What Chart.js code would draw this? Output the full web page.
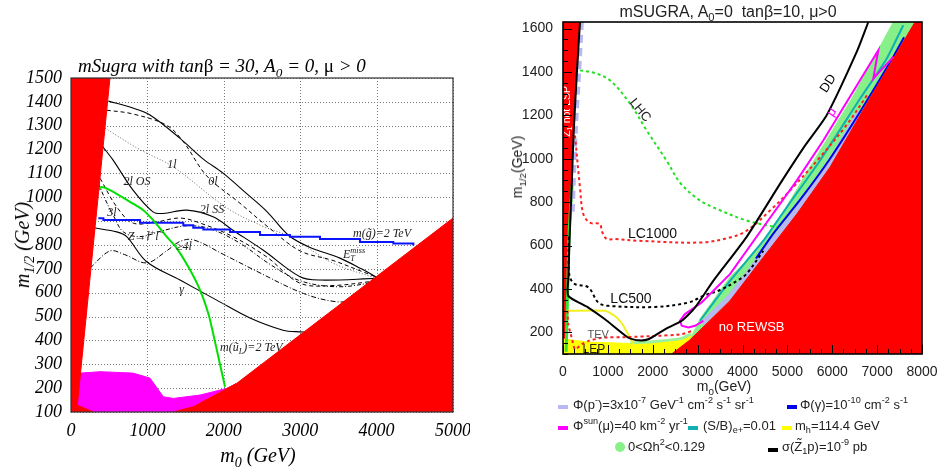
<!DOCTYPE html>
<html>
<head>
<meta charset="utf-8">
<script src="https://cdn.jsdelivr.net/npm/chart.js@4.4.1/dist/chart.umd.min.js"></script>
<style>
body { margin: 0; background: #fff; }
#wrap { position: relative; width: 938px; height: 470px; overflow: hidden; }
.box { position: absolute; }
.t { position: absolute; white-space: nowrap; line-height: 1; color: #000; }
.serif { font-family: "Liberation Serif", "DejaVu Serif", serif; font-style: italic; }
.sans { font-family: "Liberation Sans", Arial, sans-serif; color: #222; }
.u { font-style: normal; }
.ctr { transform: translate(-50%, -50%); }
.rot { transform: translate(-50%, -50%) rotate(-90deg); }
.mid { transform: translateY(-50%); }
sub, sup { font-size: 70%; line-height: 0; }
.sw { position: absolute; width: 10px; height: 4px; }
</style>
</head>
<body>
<div id="wrap">
  <div class="box" style="left:0;top:0;width:470px;height:470px"><canvas id="left"></canvas></div>
  <div class="box" style="left:470px;top:0;width:468px;height:470px"><canvas id="right"></canvas></div>

  <div class="t serif" style="left:78px;top:56px;font-size:19px">mSugra with tan<span class="u">β</span> = 30, A<sub>0</sub> = 0, <span class="u">μ</span> &gt; 0</div>
  <div class="t serif rot" style="left:22px;top:245px;font-size:20px">m<sub>1/2</sub> (GeV)</div>
  <div class="t serif ctr" style="left:258px;top:455px;font-size:20px">m<sub>0</sub> (GeV)</div>

  <div class="t sans ctr" style="left:728px;top:12px;font-size:16px">mSUGRA, A<sub>0</sub>=0&nbsp; tanβ=10, μ&gt;0</div>
  <div class="t sans rot" style="left:517px;top:167px;font-size:14px">m<sub>1/2</sub>(GeV)</div>
  <div class="t sans ctr" style="left:724px;top:386px;font-size:14px">m<sub>0</sub>(GeV)</div>

  <div class="sw" style="left:558px;top:405px;background:#b8b8f2"></div>
  <div class="t sans mid" style="left:573px;top:404px;font-size:13px">Φ(p<sup>-</sup>)=3x10<sup>-7</sup> GeV<sup>-1</sup> cm<sup>-2</sup> s<sup>-1</sup> sr<sup>-1</sup></div>
  <div class="sw" style="left:787px;top:405px;background:#0000ee"></div>
  <div class="t sans mid" style="left:800px;top:404px;font-size:13px">Φ(γ)=10<sup>-10</sup> cm<sup>-2</sup> s<sup>-1</sup></div>

  <div class="sw" style="left:558px;top:426px;background:#ff00ff"></div>
  <div class="t sans mid" style="left:573px;top:425px;font-size:13px">Φ<sup>sun</sup>(μ)=40 km<sup>-2</sup> yr<sup>-1</sup></div>
  <div class="sw" style="left:688px;top:426px;background:#10b0b0"></div>
  <div class="t sans mid" style="left:703px;top:425px;font-size:13px">(S/B)<sub>e+</sub>=0.01</div>
  <div class="sw" style="left:782px;top:426px;background:#ffff00"></div>
  <div class="t sans mid" style="left:795px;top:425px;font-size:13px">m<sub>h</sub>=114.4 GeV</div>

  <div class="box" style="left:615px;top:442px;width:10px;height:10px;border-radius:50%;background:#88f088"></div>
  <div class="t sans mid" style="left:628px;top:446px;font-size:13px">0&lt;Ωh<sup>2</sup>&lt;0.129</div>
  <div class="sw" style="left:768px;top:448px;background:#000"></div>
  <div class="t sans mid" style="left:782px;top:446px;font-size:13px">σ(Z̃<sub>1</sub>p)=10<sup>-9</sup> pb</div>
</div>

<script>
// ---------- left panel: tan beta = 30 ----------
const leftXTicks = [0, 1000, 2000, 3000, 4000, 5000];
const leftYTicks = [100, 200, 300, 400, 500, 600, 700, 800, 900, 1000, 1100, 1200, 1300, 1400, 1500];
const leftRedWedge = [[0, 100], [0, 1500], [510, 1500], [83, 129], [292, 100]];
const leftRedRight = [[1339, 100], [1601, 122], [2169, 220], [5000, 913], [5000, 100]];
const leftMagenta = [[83, 129], [83, 262], [380, 269], [812, 263], [1034, 242], [1208, 164], [1339, 157],
  [1689, 171], [2038, 199], [2169, 220], [1601, 122], [1339, 100], [292, 100]];
const gluino2TeV = [[358, 912], [424, 905], [903, 893], [1470, 883], [1600, 872], [1732, 865], [2081, 855],
  [2474, 842], [2866, 835], [3259, 825], [3783, 813], [4219, 806], [4481, 798]];
const squark2TeV = [[358, 1030], [402, 1043], [510, 1030], [772, 981], [946, 946], [1073, 905], [1252, 835],
  [1383, 787], [1550, 700], [1689, 611], [1800, 510], [1859, 431], [1950, 300], [2016, 206]];
const reach0l = [[489, 1403], [800, 1375], [1034, 1345], [1427, 1247], [1732, 1160], [1990, 1101], [2300, 1015],
  [2565, 940], [2850, 840], [3130, 790], [3520, 745], [3800, 700], [4000, 665]];
const reachEtMiss = [[467, 1365], [800, 1350], [1252, 1302], [1470, 1233], [1776, 1090], [2212, 975], [2600, 870],
  [3000, 775], [3430, 735], [3800, 690], [4000, 665]];
const reach1l = [[445, 1290], [900, 1200], [1335, 1128], [2042, 955], [2500, 880], [2866, 835], [3429, 724], [4002, 660]];
const reach2lOS = [[415, 1212], [551, 1156], [812, 1030], [1073, 939], [1204, 932], [1514, 946], [1859, 918],
  [2120, 862], [2513, 779], [2997, 667], [3259, 653], [4002, 660]];
const reach2lSS = [[380, 1080], [598, 960], [812, 892], [1121, 897], [1427, 913], [1689, 892], [2120, 835],
  [2562, 750], [2997, 640], [3429, 630], [4002, 650]];
const reach3l = [[358, 1058], [450, 990], [560, 920], [685, 855], [900, 835], [1200, 860], [1500, 880], [1800, 870],
  [2200, 810], [2600, 720], [3000, 650], [3500, 625], [4000, 645]];
const reachZll = [[249, 703], [510, 775], [700, 760], [991, 725], [1250, 775], [1427, 815], [1600, 822], [2000, 760],
  [2430, 690], [3042, 597], [3478, 562], [3800, 570]];
const reachGamma = [[314, 871], [598, 855], [729, 835], [991, 730], [1427, 653], [1907, 569], [2343, 494],
  [2775, 443], [2997, 436], [3129, 436]];
const leftLabels = [
  ["1l", 1322, 1135], ["2l OS", 864, 1064], ["0l", 1859, 1064], ["3l", 537, 934], ["2l SS", 1846, 946],
  ["Z→l^{+}l^{−}", 982, 833], ["≥4l", 1479, 793], ["E_{T}^{miss}", 3705, 758], ["γ", 1449, 611]
];
const leftLabelsLeft = [["m(g̃)=2 TeV", 3691, 846], ["m(ũ_{L})=2 TeV", 1950, 368]];

// ---------- right panel: tan beta = 10 ----------
const rightXTicks = [0, 1000, 2000, 3000, 4000, 5000, 6000, 7000, 8000];
const rightYTicks = [200, 400, 600, 800, 1000, 1200, 1400, 1600];
const redLeftStrip = [[0, 100], [0, 1630], [379, 1630], [305, 1384], [230, 1122], [194, 891], [118, 661],
  [90, 400], [60, 200], [40, 100]];
const redNoREWSB = [[2420, 100], [2830, 165], [3720, 345], [4460, 545], [5210, 745], [5950, 961], [6618, 1200],
  [7361, 1461], [7844, 1630], [8000, 1630], [8000, 100]];
const relicBand = [[2830, 165], [3053, 262], [3721, 455], [4000, 510], [4686, 675], [5500, 960], [6432, 1276],
  [7361, 1630], [7844, 1630], [7361, 1461], [6618, 1200], [5950, 961], [5210, 745], [4460, 545], [3720, 345]];
const relicLeft = [[70, 110], [105, 400], [135, 661], [205, 880]];
const relicLEP = [[1500, 152], [2050, 158], [2645, 172], [2850, 192]];
const lepYellow = [[0, 100], [0, 170], [45, 168], [564, 155], [1530, 148], [2050, 152], [2645, 168], [2793, 183],
  [2941, 199], [2830, 165], [2420, 100]];
const higgsLine = [[82, 299], [936, 299], [1196, 268], [1344, 230], [1493, 175], [1567, 145]];
const pbarLeft = [[420, 1630], [360, 1400], [290, 1150], [240, 900], [215, 740]];
const pbarRight = [[3100, 240], [3720, 365], [4460, 565], [5210, 765], [5950, 985], [6600, 1215]];
const gammaFlux = [[4300, 540], [4686, 655], [5281, 810], [5950, 1000], [6618, 1215], [7361, 1470], [7600, 1560]];
const positronSB = [[3053, 253], [3721, 437], [4464, 622], [4985, 776], [5727, 992], [6618, 1276], [7212, 1461], [7583, 1615]];
const muonSun = [[3127, 253], [2941, 230], [2793, 222], [2645, 230], [2607, 253], [2719, 284], [3090, 337],
  [3721, 468], [4464, 684], [5208, 899], [5800, 1084], [7026, 1500], [6915, 1369], [7325, 1461], [7361, 1470]];
const directDet = [[379, 1630], [310, 1400], [235, 1110], [195, 880], [150, 650], [120, 450], [118, 368],
  [564, 314], [936, 260], [1455, 175], [1678, 163], [1901, 168], [2273, 214], [2645, 253], [2941, 314],
  [3349, 437], [4093, 640], [4836, 884], [5393, 1060], [5876, 1200], [6545, 1492], [6804, 1630]];
const lc500 = [[130, 640], [125, 520], [156, 453], [267, 422], [564, 407], [787, 337], [1010, 322], [2050, 317],
  [2793, 337], [3127, 368], [3500, 395], [3900, 440], [4093, 470], [4464, 576]];
const lc1000 = [[267, 1107], [378, 869], [452, 745], [600, 705], [825, 699], [862, 668], [973, 630], [1159, 630],
  [1678, 622], [3090, 614], [3721, 637], [4093, 668], [4613, 761], [5058, 853], [5727, 1007], [6300, 1150], [6800, 1300]];
const lhcReach = [[379, 1407], [700, 1395], [1047, 1361], [1493, 1254], [1865, 1130], [2311, 990], [2607, 890],
  [3000, 815], [3349, 776], [4093, 715], [4762, 684]];
const tevReach = [[100, 300], [118, 236], [194, 175], [267, 122], [416, 145], [564, 160], [862, 175], [1455, 178],
  [2050, 183], [2645, 191], [2867, 206]];
const rightLabels = [
  ["LHC", 1716, 1223, 50, "#222", 13], ["DD", 5911, 1346, -57, "#000", 13], ["μ", 5988, 1215, -57, "#ff00ff", 13],
  ["LC1000", 1994, 653, 0, "#111", 14], ["LC500", 1515, 353, 0, "#111", 14], ["TEV", 785, 188, 0, "#555", 11],
  ["LEP", 690, 119, 0, "#222", 12], ["no REWSB", 4204, 222, 0, "#fff", 13], ["Z̃_{1} not LSP", 82, 1218, -90, "#fff", 10.5]
];

const RED = "#ff0000", MAG = "#ff00ff";
const SERIF = '"Liberation Serif", "DejaVu Serif", serif';
const SANS = '"Liberation Sans", Arial, sans-serif';

const P = a => a.map(([x, y]) => ({ x, y }));
function poly(data, color) {
  return { data: P(data), showLine: true, fill: "shape", backgroundColor: color, borderColor: color,
    borderWidth: 1, pointRadius: 0, tension: 0 };
}
function curve(data, color, width, dash, tension) {
  return { data: P(data), showLine: true, fill: false, borderColor: color, borderWidth: width,
    borderDash: dash || [], pointRadius: 0, tension: tension === undefined ? 0.35 : tension };
}
const plain = v => String(v);
// keep the plot area where the layout padding puts it (no extra room for edge labels)
const fitX = h => s => { s.height = h; s.paddingLeft = 0; s.paddingRight = 0; };
const fitY = w => s => { s.width = w; s.paddingTop = 0; s.paddingBottom = 0; };

// tiny rich text: _{sub} and ^{sup}
function parts(str) {
  const out = [], re = /([_^])\{([^}]*)\}/g;
  let last = 0, m;
  while ((m = re.exec(str))) {
    if (m.index > last) out.push({ t: str.slice(last, m.index) });
    out.push({ t: m[2], k: m[1] });
    last = re.lastIndex;
  }
  if (last < str.length) out.push({ t: str.slice(last) });
  return out;
}
function drawRich(ctx, str, x, y, o) {
  const ps = parts(str);
  const f = s => `${o.style || ""} ${s}px ${o.family}`;
  let w = 0;
  ps.forEach((p, i) => {
    ctx.font = f(p.k ? o.size * 0.7 : o.size);
    p.w = ctx.measureText(p.t).width;
    p.stack = p.k === "^" && ps[i - 1] && ps[i - 1].k === "_";
    w += p.stack ? Math.max(0, p.w - ps[i - 1].w) : p.w;
  });
  ctx.save();
  ctx.translate(x, y);
  if (o.angle) ctx.rotate(o.angle * Math.PI / 180);
  ctx.fillStyle = o.color || "#000";
  ctx.textBaseline = "middle";
  ctx.textAlign = "left";
  let cx = o.align === "left" ? 0 : -w / 2;
  ps.forEach((p, i) => {
    ctx.font = f(p.k ? o.size * 0.7 : o.size);
    let px = cx;
    if (p.stack) px = cx - ps[i - 1].w;
    const dy = p.k === "_" ? o.size * 0.3 : p.k === "^" ? -o.size * 0.38 : 0;
    ctx.fillText(p.t, px, dy);
    cx = p.stack ? Math.max(cx, px + p.w) : cx + p.w;
  });
  ctx.restore();
}

const leftDeco = {
  id: "leftDeco",
  beforeDatasetsDraw(chart) {
    // dotted grid
    const { ctx, chartArea: a, scales: { x, y } } = chart;
    ctx.save();
    ctx.strokeStyle = "#777";
    ctx.lineWidth = 1;
    ctx.setLineDash([1, 2]);
    ctx.beginPath();
    leftXTicks.forEach(v => {
      const px = Math.round(x.getPixelForValue(v)) + 0.5;
      ctx.moveTo(px, a.top); ctx.lineTo(px, a.bottom);
    });
    leftYTicks.forEach(v => {
      const py = Math.round(y.getPixelForValue(v)) + 0.5;
      ctx.moveTo(a.left, py); ctx.lineTo(a.right, py);
    });
    ctx.stroke();
    ctx.restore();
  },
  afterDatasetsDraw(chart) {
    const { ctx, chartArea: a, scales: { x, y } } = chart;
    leftLabels.forEach(([s, vx, vy]) =>
      drawRich(ctx, s, x.getPixelForValue(vx), y.getPixelForValue(vy), { family: SERIF, style: "italic", size: 12, color: "#222" }));
    leftLabelsLeft.forEach(([s, vx, vy]) =>
      drawRich(ctx, s, x.getPixelForValue(vx), y.getPixelForValue(vy), { family: SERIF, style: "italic", size: 12, color: "#222", align: "left" }));
    ctx.save();
    ctx.strokeStyle = "#333";
    ctx.lineWidth = 1.2;
    ctx.strokeRect(a.left, a.top, a.width, a.height);
    ctx.restore();
  }
};

new Chart(document.getElementById("left"), {
  type: "scatter",
  data: {
    datasets: [
      poly(leftRedWedge, RED),
      poly(leftRedRight, RED),
      poly(leftMagenta, MAG),
      curve(squark2TeV, "#00e000", 2, [], 0.3),
      Object.assign(curve(gluino2TeV, "#0a14ff", 2, [], 0), { stepped: true }),
      curve(reach0l, "#000", 1.1),
      curve(reachEtMiss, "#000", 1, [4, 3]),
      curve(reach1l, "#666", 1, [1, 2]),
      curve(reach2lOS, "#000", 1.1),
      curve(reach2lSS, "#000", 1, [4, 3]),
      curve(reach3l, "#000", 1, [4, 2, 1, 2]),
      curve(reachZll, "#000", 1, [5, 2, 1, 2]),
      curve(reachGamma, "#000", 1.1)
    ]
  },
  options: {
    responsive: true, maintainAspectRatio: false, animation: false,
    layout: { padding: { left: 11, top: 78, right: 17, bottom: 18 } },
    plugins: { legend: { display: false }, tooltip: { enabled: false } },
    scales: {
      x: {
        type: "linear", min: 0, max: 5000,
        afterBuildTicks: s => { s.ticks = leftXTicks.map(v => ({ value: v })); },
        ticks: { padding: 8, autoSkip: false, maxRotation: 0, callback: plain, color: "#000",
          font: { family: SERIF, style: "italic", size: 18 } },
        grid: { display: false, drawTicks: false },
        border: { display: false },
        afterFit: fitX(40)
      },
      y: {
        type: "linear", min: 100, max: 1500,
        afterBuildTicks: s => { s.ticks = leftYTicks.map(v => ({ value: v })); },
        ticks: { padding: 9, autoSkip: false, callback: plain, color: "#000",
          font: { family: SERIF, style: "italic", size: 18 } },
        grid: { display: false, drawTicks: false },
        border: { display: false },
        afterFit: fitY(60)
      }
    }
  },
  plugins: [leftDeco]
});

const rightDeco = {
  id: "rightDeco",
  afterDatasetsDraw(chart) {
    const { ctx, scales: { x, y } } = chart;
    rightLabels.forEach(([s, vx, vy, ang, col, size]) =>
      drawRich(ctx, s, x.getPixelForValue(vx), y.getPixelForValue(vy), { family: SANS, size, color: col, angle: ang }));
  },
  afterDraw(chart) {
    const { ctx, chartArea: a, scales: { x, y } } = chart;
    ctx.save();
    ctx.strokeStyle = "#000";
    ctx.lineWidth = 1;
    ctx.beginPath();
    for (let v = 0; v <= 8000; v += 250) {
      const px = Math.round(x.getPixelForValue(v)) + 0.5;
      ctx.moveTo(px, a.bottom);
      ctx.lineTo(px, a.bottom - (v % 1000 === 0 ? 9 : 5));
    }
    for (let v = 100; v <= 1630; v += 50) {
      const py = Math.round(y.getPixelForValue(v)) + 0.5;
      ctx.moveTo(a.left, py);
      ctx.lineTo(a.left + (v % 200 === 0 ? 9 : 5), py);
    }
    ctx.stroke();
    ctx.lineWidth = 1.6;
    ctx.strokeRect(a.left, a.top, a.width, a.height);
    ctx.restore();
  }
};

new Chart(document.getElementById("right"), {
  type: "scatter",
  data: {
    datasets: [
      poly(redNoREWSB, RED),
      curve(directDet, "#000", 2, [], 0.2),
      curve(muonSun, MAG, 2, [], 0),
      curve(lc1000, "#ff2020", 2, [3, 3]),
      curve(lc500, "#000", 2, [3, 3]),
      curve(lhcReach, "#22e022", 2, [3, 3]),
      curve(tevReach, "#ff2020", 2, [3, 3], 0.2),
      curve(higgsLine, "#f4f020", 2, [], 0.2),
      curve(positronSB, "#10b0b0", 2, [], 0.2),
      curve(gammaFlux, "#0000ee", 2, [], 0.2),
      curve(pbarRight, "#b8b8f2", 5, [], 0.2),
      curve(pbarLeft, "#b8b8f2", 4, [8, 5], 0.2),
      poly(relicBand, "#88f088"),
      curve(relicLeft, "#33e033", 3, [], 0.2),
      curve(relicLEP, "#9cf29c", 3, [], 0.2),
      poly(lepYellow, "#ffff00"),
      poly(redLeftStrip, RED)
    ]
  },
  options: {
    responsive: true, maintainAspectRatio: false, animation: false,
    layout: { padding: { left: 43, top: 22, right: 16, bottom: 86 } },
    plugins: { legend: { display: false }, tooltip: { enabled: false } },
    scales: {
      x: {
        type: "linear", min: 0, max: 8000,
        afterBuildTicks: s => { s.ticks = rightXTicks.map(v => ({ value: v })); },
        ticks: { padding: 10, autoSkip: false, maxRotation: 0, callback: plain, color: "#222",
          font: { family: SANS, size: 14 } },
        grid: { display: false, drawTicks: false },
        border: { display: false },
        afterFit: fitX(30)
      },
      y: {
        type: "linear", min: 100, max: 1630,
        afterBuildTicks: s => { s.ticks = rightYTicks.map(v => ({ value: v })); },
        ticks: { padding: 10, autoSkip: false, callback: plain, color: "#222",
          font: { family: SANS, size: 14 } },
        grid: { display: false, drawTicks: false },
        border: { display: false },
        afterFit: fitY(50)
      }
    }
  },
  plugins: [rightDeco]
});
</script>
</body>
</html>
